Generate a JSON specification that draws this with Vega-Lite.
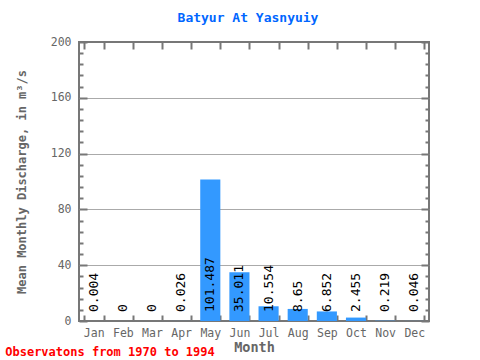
{
  "$schema": "https://vega.github.io/schema/vega-lite/v6.json",
  "background": "white",
  "padding": {"left": 5, "top": 11, "right": 5, "bottom": 0},
  "config": {
    "font": "DejaVu Sans Mono",
    "view": {"stroke": "#777777", "strokeWidth": 2},
    "concat": {"spacing": 0}
  },
  "title": {
    "text": "Observatons from 1970 to 1994",
    "orient": "bottom",
    "anchor": "start",
    "frame": "bounds",
    "color": "#ff0000",
    "font": "DejaVu Sans Mono",
    "fontSize": 12,
    "fontWeight": "bold",
    "offset": -8,
    "dx": -9
  },
  "vconcat": [
    {
      "width": 350,
      "height": 279,
      "title": {
        "text": "Batyur At Yasnyuiy",
        "color": "#0066ff",
        "font": "DejaVu Sans Mono",
        "fontSize": 13,
        "fontWeight": "bold",
        "anchor": "middle",
        "frame": "group",
        "offset": 11,
        "dx": -6
      },
      "data": {
        "values": [
          {"month": "Jan", "value": 0.004},
          {"month": "Feb", "value": 0},
          {"month": "Mar", "value": 0},
          {"month": "Apr", "value": 0.026},
          {"month": "May", "value": 101.487},
          {"month": "Jun", "value": 35.011},
          {"month": "Jul", "value": 10.554},
          {"month": "Aug", "value": 8.65},
          {"month": "Sep", "value": 6.852},
          {"month": "Oct", "value": 2.455},
          {"month": "Nov", "value": 0.219},
          {"month": "Dec", "value": 0.046}
        ]
      },
      "layer": [
        {
          "mark": {"type": "bar", "color": "#3399ff"},
          "encoding": {
            "x": {
              "field": "month",
              "type": "ordinal",
              "sort": ["Jan","Feb","Mar","Apr","May","Jun","Jul","Aug","Sep","Oct","Nov","Dec"],
              "scale": {"paddingInner": 0.31, "paddingOuter": 0.16},
              "axis": {
                "orient": "bottom",
                "title": "Month",
                "titleFont": "DejaVu Sans Mono",
                "titleFontSize": 13.5,
                "titleFontWeight": "bold",
                "titleColor": "#666666",
                "titlePadding": 2,
                "labelFont": "DejaVu Sans Mono",
                "labelFontSize": 11.5,
                "labelColor": "#666666",
                "labelAngle": 0,
                "labelPadding": 12,
                "domain": false,
                "ticks": true,
                "tickBand": "extent",
                "tickSize": -6,
                "tickColor": "#777777",
                "tickWidth": 2,
                "grid": false
              }
            },
            "y": {
              "field": "value",
              "type": "quantitative",
              "scale": {"domain": [0, 200], "nice": false},
              "axis": {
                "orient": "left",
                "title": "Mean Monthly Discharge, in  m³/s",
                "titleFont": "DejaVu Sans Mono",
                "titleFontSize": 12,
                "titleFontWeight": "bold",
                "titleColor": "#666666",
                "titlePadding": 22,
                "values": [0,8,16,24,32,40,48,56,64,72,80,88,96,104,112,120,128,136,144,152,160,168,176,184,192,200],
                "labelExpr": "datum.value % 40 === 0 ? datum.label : ''",
                "labelFont": "DejaVu Sans Mono",
                "labelFontSize": 11.5,
                "labelColor": "#666666",
                "labelPadding": 16,
                "domain": false,
                "tickColor": "#777777",
                "tickWidth": 2,
                "tickSize": {"condition": {"test": "datum.value % 40 === 0", "value": -8}, "value": -4},
                "grid": true,
                "gridColor": "#aaaaaa",
                "gridWidth": 1,
                "gridOpacity": {"condition": {"test": "datum.value % 40 === 0 && datum.value > 0 && datum.value < 200", "value": 1}, "value": 0}
              }
            }
          }
        },
        {
          "mark": {"type": "text", "angle": 270, "align": "left", "baseline": "middle", "dx": 9, "font": "DejaVu Sans Mono", "fontSize": 13, "color": "#000000"},
          "encoding": {
            "x": {"field": "month", "type": "ordinal", "sort": ["Jan","Feb","Mar","Apr","May","Jun","Jul","Aug","Sep","Oct","Nov","Dec"], "axis": null},
            "y": {"datum": 0, "type": "quantitative", "axis": null},
            "text": {"field": "value", "type": "nominal"}
          }
        },
        {
          "mark": {"type": "bar", "opacity": 0},
          "encoding": {
            "x": {
              "field": "month",
              "type": "ordinal",
              "sort": ["Jan","Feb","Mar","Apr","May","Jun","Jul","Aug","Sep","Oct","Nov","Dec"],
              "axis": {
                "orient": "top",
                "title": null,
                "labels": false,
                "domain": false,
                "tickBand": "extent",
                "tickSize": -7,
                "tickColor": "#777777",
                "tickWidth": 2,
                "grid": false
              }
            },
            "y": {
              "field": "value",
              "type": "quantitative",
              "axis": {
                "orient": "right",
                "title": null,
                "labels": false,
                "domain": false,
                "values": [0,8,16,24,32,40,48,56,64,72,80,88,96,104,112,120,128,136,144,152,160,168,176,184,192,200],
                "tickColor": "#777777",
                "tickWidth": 2,
                "tickSize": {"condition": {"test": "datum.value % 40 === 0", "value": -8}, "value": -4},
                "grid": false
              }
            }
          }
        }
      ],
      "resolve": {"axis": {"x": "independent", "y": "independent"}}
    }
  ]
}
